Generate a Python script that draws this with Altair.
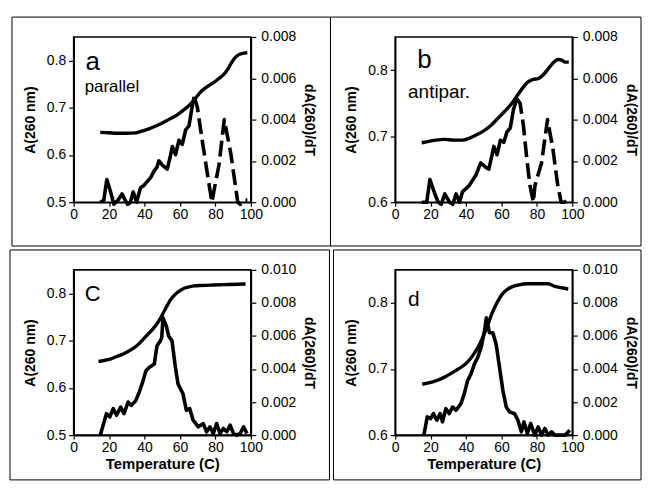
import altair as alt
import pandas as pd

FONT = "Liberation Sans"

# ---------------- panel a (parallel) ----------------
TA_a = [15, 20, 25, 30, 35, 38, 42, 46, 50, 54, 58, 62, 66, 70, 72, 74, 78, 82, 85, 87, 89, 91, 93, 95, 98]
A_a = [0.648, 0.647, 0.646, 0.646, 0.647, 0.650, 0.655, 0.661, 0.668, 0.676, 0.684, 0.695, 0.708,
       0.726, 0.735, 0.741, 0.751, 0.762, 0.772, 0.782, 0.795, 0.806, 0.812, 0.815, 0.817]
TD_a = [15, 17, 18.7, 20.5, 22.7, 25, 27.3, 29, 30.5, 32, 33.6, 35.5, 37.7, 39.5, 41.5, 43.5, 45.3, 47,
        48.1, 50, 52.8, 54.5, 55.7, 57.5, 59.4, 61.3, 63.2, 65.1, 67, 68,
        69.8, 72.7, 75.6, 78, 79.5, 82, 85, 88.8, 92.6, 94, 96, 98]
D_a = [0, 0.0001, 0.0011, 0.0006, -0.0001, 0.0001, 0.0004, 0.0001, -0.0001, 0, 0.0005, 0, 0.0007,
       0.0008, 0.0010, 0.0012, 0.0015, 0.0017, 0.0020, 0.0018, 0.0016, 0.0022, 0.0027, 0.0023, 0.0030,
       0.0028, 0.0035, 0.0037, 0.0047, 0.0051,
       0.0046, 0.0029, 0.0013, 0, 0.0007, 0.0018, 0.0040, 0.0023, 0, -0.0001, 0.0001, 0.0001]

# ---------------- panel b (antiparallel) ----------------
TA_b = [15, 19, 23, 28, 33, 38, 42, 46, 50, 54, 58, 62, 66, 69.6, 72, 75, 78, 80.6, 84, 87, 90, 92, 94, 96, 98]
A_b = [0.690, 0.692, 0.694, 0.695, 0.694, 0.694, 0.697, 0.702, 0.708, 0.716, 0.727, 0.738, 0.750,
       0.764, 0.773, 0.782, 0.786, 0.787, 0.794, 0.804, 0.813, 0.816, 0.815, 0.812, 0.812]
TD_b = [15, 17.8, 19.6, 22.4, 24.3, 26, 28, 30.7, 32.5, 34.4, 36.3, 38, 41.7, 45.5, 48.3, 51, 52.9,
        55.7, 57.5, 59.4, 61.3, 63.1, 65, 66.8, 68.7,
        70.5, 72.4, 74.3, 76.1, 78, 78.9, 82.6, 86, 89, 91.8, 93.7, 95.5, 97.4]
D_b = [0, 0, 0.0011, 0.0004, 0, -0.0001, 0.0004, 0, -0.0001, 0.0004, 0, 0.0005, 0.0008, 0.0013,
       0.0019, 0.0017, 0.0016, 0.0027, 0.0023, 0.0030, 0.0029, 0.0034, 0.0036, 0.0045, 0.0050,
       0.0048, 0.0037, 0.0021, 0.0008, 0, 0.0008, 0.0019, 0.0040, 0.0026, 0.0008, 0, 0, 0.0001]

# ---------------- panel c ----------------
TA_c = [14, 17, 20.6, 24, 28, 32, 35.8, 38.5, 41.5, 44.5, 47.2, 49, 51, 53, 54.7, 56.5, 58.5, 60.5,
        62.3, 65, 68, 72, 79, 88, 97]
A_c = [0.656, 0.658, 0.661, 0.666, 0.672, 0.680, 0.690, 0.700, 0.712, 0.724, 0.737, 0.748, 0.762,
       0.776, 0.787, 0.795, 0.802, 0.807, 0.811, 0.814, 0.816, 0.817, 0.818, 0.819, 0.820]
TD_c = [15, 16.9, 18.5, 20.4, 22.3, 24.2, 26.5, 28.4, 30.7, 32.6, 35.1, 37, 38.9, 40.8, 42.7, 45.5,
        47, 48.9, 49.7, 50.4, 52.3, 53.6, 55.5, 57.4, 58.9, 61.7, 63.6, 65.5, 67.4, 70.3, 73.1, 75,
        76.9, 78.8, 80.7, 82.6, 84.5, 86.4, 88.3, 90.2, 92.1, 94, 95.9, 97.8]
D_c = [0, 0.0007, 0.0013, 0.0011, 0.0016, 0.0012, 0.0017, 0.0013, 0.0020, 0.0018, 0.0021, 0.0026,
       0.0032, 0.0039, 0.0041, 0.0043, 0.0054, 0.0057, 0.0059, 0.0071, 0.0066, 0.0060, 0.0057,
       0.0041, 0.0031, 0.0025, 0.0015, 0.0016, 0.0009, 0.0005, 0.0007, 0.0002, 0.0005, 0.0001,
       0.0007, 0.0001, 0.0004, 0.0002, 0.0006, 0.0001, 0, 0.0001, 0.0005, 0.0001]

# ---------------- panel d ----------------
TA_d = [15.3, 19, 23.9, 28, 31.4, 35, 39, 42, 44.7, 46.6, 48.5, 50.4, 52.3, 54.2, 56.1, 58, 59.8,
        61.7, 63.6, 66.5, 69.3, 75, 81, 86.4, 90.2, 94, 97.7]
A_d = [0.677, 0.679, 0.683, 0.688, 0.693, 0.699, 0.706, 0.714, 0.724, 0.732, 0.742, 0.754, 0.767,
       0.781, 0.793, 0.803, 0.811, 0.817, 0.821, 0.825, 0.827, 0.829, 0.829, 0.829, 0.825, 0.823, 0.821]
TD_d = [16.2, 18.1, 20, 21.6, 23.5, 25.4, 26.7, 28.6, 30.5, 32.4, 34.3, 37.1, 39, 40.9, 42.8, 44.7,
        46.6, 48.5, 50.4, 51.5, 53.2, 55.1, 57, 58.9, 60.8, 62.7, 64.6, 67.4, 69.3, 71.2, 72.7,
        74.6, 76.5, 78.8, 80.7, 82.6, 84.5, 86.4, 88.3, 90, 92, 94, 96, 98.5]
D_d = [0, 0.0011, 0.0010, 0.0013, 0.0009, 0.0013, 0.0008, 0.0016, 0.0013, 0.0017, 0.0015, 0.0019,
       0.0025, 0.0033, 0.0037, 0.0043, 0.0047, 0.0053, 0.0063, 0.0071, 0.0062, 0.0062, 0.0055,
       0.0041, 0.0027, 0.0017, 0.0014, 0.0013, 0.0009, 0.0002, 0.0008, 0.0001, 0.0007, 0, 0.0005,
       0, 0.0004, 0, 0.0002, 0, 0, 0, 0, 0.0003]

X_TICKS = [0, 20, 40, 60, 80, 100]
D_TICKS_8 = [0, 0.002, 0.004, 0.006, 0.008]
D_TICKS_10 = [0, 0.002, 0.004, 0.006, 0.008, 0.010]

W, H = 178, 166


def panel(TA, A, TD, D, split, ymin, yvals, dmax, dvals, letter, lpos, lsize,
          sub, spos, ssize, xtitle, box):
    dfA = pd.DataFrame({"T": TA, "A": A})
    rows = []
    for t, d in zip(TD, D):
        if split is None or t <= split:
            rows.append({"T": t, "D": d, "seg": "solid"})
        if split is not None and t >= split:
            rows.append({"T": t, "D": d, "seg": "dash"})
    dfD = pd.DataFrame(rows)

    xenc = alt.X("T:Q", scale=alt.Scale(domain=[0, 100], nice=False),
                 axis=alt.Axis(values=X_TICKS, tickSize=4, labelPadding=1, titlePadding=3,
                               titleFontSize=15),
                 title=xtitle)
    yscale = alt.Scale(domain=[ymin, 0.85], nice=False, zero=False)

    frame = alt.Chart(pd.DataFrame({"k": [0]})).mark_rect(
        fill="transparent", stroke="black", strokeWidth=1
    ).encode(x=alt.value(box[0]), x2=alt.value(box[1]), y=alt.value(box[2]), y2=alt.value(box[3]))

    lineA = alt.Chart(dfA).mark_line(color="black", strokeWidth=3.4, interpolate="monotone").encode(
        x=xenc,
        y=alt.Y("A:Q", scale=yscale,
                axis=alt.Axis(orient="left", values=yvals, format=".1f", tickSize=5,
                              labelPadding=3, titlePadding=9),
                title="A(260 nm)"),
    )

    lineD = alt.Chart(dfD).mark_line(color="black", strokeWidth=3.6, strokeJoin="round").encode(
        x=xenc,
        y=alt.Y("D:Q", scale=alt.Scale(domain=[0, dmax], nice=False),
                axis=alt.Axis(orient="right", values=dvals, format=".3f", tickSize=5,
                              labelPadding=5, titlePadding=6),
                title="dA(260)/dT"),
        strokeDash=alt.StrokeDash("seg:N", scale=alt.Scale(domain=["solid", "dash"],
                                                           range=[[1, 0], [16, 6]]), legend=None),
    )

    layers = [frame, lineA, lineD]
    for txt, pos, size in [(letter, lpos, lsize), (sub, spos, ssize)]:
        if not txt:
            continue
        dfT = pd.DataFrame({"T": [pos[0]], "A": [pos[1]], "label": [txt]})
        layers.append(
            alt.Chart(dfT).mark_text(align="left", baseline="alphabetic", font=FONT,
                                     fontSize=size, color="black").encode(
                x=xenc,
                y=alt.Y("A:Q", scale=yscale, axis=None),
                text="label:N",
            )
        )
    return alt.layer(*layers).resolve_scale(y="independent").properties(width=W, height=H)


pa = panel(TA_a, A_a, TD_a, D_a, 68, 0.5, [0.5, 0.6, 0.7, 0.8], 0.008, D_TICKS_8,
           "a", (6.7, 0.780), 26, "parallel", (6.2, 0.734), 17, None, (-62, 258, -20, 210))
pb = panel(TA_b, A_b, TD_b, D_b, 68.7, 0.6, [0.6, 0.7, 0.8], 0.008, D_TICKS_8,
           "b", (12.4, 0.803), 26, "antipar.", (7.3, 0.758), 19, None, (-65, 247, -20, 210))
pc = panel(TA_c, A_c, TD_c, D_c, None, 0.5, [0.5, 0.6, 0.7, 0.8], 0.010, D_TICKS_10,
           "C", (6.2, 0.785), 22, "", (0, 0), 10, "Temperature (C)", (-64, 257, -20, 211))
pdd = panel(TA_d, A_d, TD_d, D_d, None, 0.6, [0.6, 0.7, 0.8], 0.010, D_TICKS_10,
            "d", (7.3, 0.796), 21, "", (0, 0), 10, "Temperature (C)", (-62, 247, -20, 211))

chart = alt.concat(
    pa, pb, pc, pdd, columns=2, spacing={"row": 68, "column": 145}, bounds="flush"
).properties(
    padding={"left": 0, "top": 6, "right": 0, "bottom": 0},
    background="white",
).configure_view(
    stroke="black", strokeWidth=1.6
).configure_axis(
    grid=False, labelFlush=False,
    domainColor="black", domainWidth=1.6,
    tickColor="black", tickWidth=1.2,
    labelColor="black", labelFont=FONT, labelFontSize=14,
    titleColor="black", titleFont=FONT, titleFontSize=14, titleFontWeight="bold",
)

chart.save("out.html", embed_options={"renderer": "svg", "actions": False})
